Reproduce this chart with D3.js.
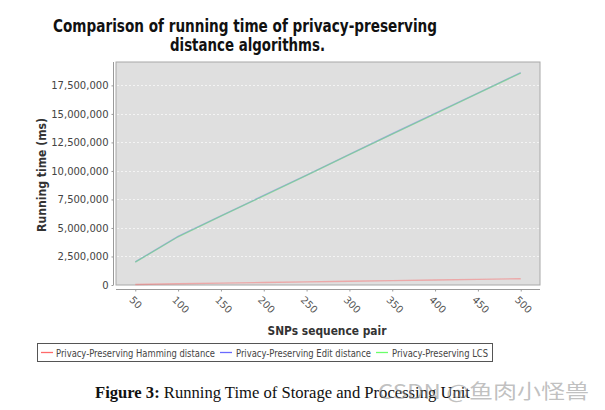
<!DOCTYPE html>
<html>
<head>
<meta charset="utf-8">
<script src="https://cdn.jsdelivr.net/npm/d3@7/dist/d3.min.js"></script>
<style>
  body { margin: 0; background: #fff; }
  svg { display: block; }
</style>
</head>
<body>
<div id="chart"></div>
<script>
var width = 605, height = 410;

// data
var pairs = [50, 100, 150, 200, 250, 300, 350, 400, 450, 500];
var hamming = [50000, 110000, 165000, 220000, 275000, 330000, 385000, 440000, 495000, 550000];
var editDist = [2020000, 4260000, 6060000, 7850000, 9640000, 11450000, 13260000, 15040000, 16830000, 18620000];
var lcs = [2000000, 4230000, 6030000, 7820000, 9610000, 11420000, 13230000, 15010000, 16800000, 18580000];
var yTicks = [0, 2500000, 5000000, 7500000, 10000000, 12500000, 15000000, 17500000];
var seriesNames = ["Privacy-Preserving Hamming distance", "Privacy-Preserving Edit distance", "Privacy-Preserving LCS"];
var seriesColors = ["rgba(255,85,85,0.4)", "rgba(85,85,255,0.4)", "rgba(85,230,85,0.45)"];

var plot = {left: 116, right: 540, top: 62, bottom: 285};

var svg = d3.select("#chart").append("svg")
    .attr("width", width)
    .attr("height", height);

// x and y scales (with the auto-range margins)
var x = d3.scaleLinear().domain([27.5, 522.5]).range([plot.left, plot.right]);
var y = d3.scaleLinear().domain([0, 19550000]).range([plot.bottom, plot.top]);

// title
var title = svg.append("g")
    .attr("font-family", "DejaVu Sans, sans-serif")
    .attr("font-weight", "bold")
    .attr("font-size", 17.5)
    .attr("fill", "#111");
title.append("text").attr("x", 53).attr("y", 32)
    .attr("textLength", 384).attr("lengthAdjust", "spacingAndGlyphs")
    .text("Comparison of running time of privacy-preserving");
title.append("text").attr("x", 170).attr("y", 51)
    .attr("textLength", 155).attr("lengthAdjust", "spacingAndGlyphs")
    .text("distance algorithms.");

// plot background
svg.append("rect")
    .attr("x", plot.left).attr("y", plot.top)
    .attr("width", plot.right - plot.left).attr("height", plot.bottom - plot.top)
    .attr("fill", "#dfdfdf")
    .attr("stroke", "#a8a8a8")
    .attr("stroke-width", 1);

// horizontal grid lines
svg.append("g").selectAll("line")
    .data(yTicks.filter(function(d){ return d > 0; }))
    .enter().append("line")
    .attr("x1", plot.left + 1).attr("x2", plot.right - 1)
    .attr("y1", function(d){ return Math.round(y(d)) + 0.5; })
    .attr("y2", function(d){ return Math.round(y(d)) + 0.5; })
    .attr("stroke", "#f4f4f4")
    .attr("stroke-dasharray", "2,2")
    .attr("stroke-width", 1);

// y axis
var yAxis = svg.append("g")
    .attr("transform", "translate(113.5,0)")
    .call(d3.axisLeft(y).tickValues(yTicks).tickSize(2).tickSizeOuter(0)
        .tickFormat(d3.format(",")));
yAxis.select(".domain").attr("stroke", "#9a9a9a").attr("d", "M0," + plot.top + "V" + plot.bottom);
yAxis.selectAll(".tick line").attr("stroke", "#9a9a9a");
yAxis.selectAll(".tick text")
    .attr("font-family", "DejaVu Sans, sans-serif")
    .attr("font-size", 10)
    .attr("fill", "#444")
    .attr("x", -5);

// x axis
var xAxis = svg.append("g")
    .attr("transform", "translate(0,289.5)")
    .call(d3.axisBottom(x).tickValues(pairs).tickSize(2).tickSizeOuter(0).tickFormat(d3.format("d")));
xAxis.select(".domain").attr("stroke", "#9a9a9a").attr("d", "M" + plot.left + ",0H" + plot.right);
xAxis.selectAll(".tick line").attr("stroke", "#9a9a9a");
xAxis.selectAll(".tick text")
    .attr("font-family", "DejaVu Sans, sans-serif")
    .attr("font-size", 10)
    .attr("fill", "#555")
    .attr("text-anchor", "start")
    .attr("y", 0).attr("dy", "0")
    .attr("transform", "translate(-7,11) rotate(45)");

// axis labels
svg.append("text")
    .attr("transform", "translate(46,175) rotate(-90)")
    .attr("text-anchor", "middle")
    .attr("font-family", "DejaVu Sans, sans-serif")
    .attr("font-weight", "bold")
    .attr("font-size", 12)
    .attr("fill", "#333")
    .attr("textLength", 114).attr("lengthAdjust", "spacingAndGlyphs")
    .text("Running time (ms)");

svg.append("text")
    .attr("x", 327).attr("y", 335)
    .attr("text-anchor", "middle")
    .attr("font-family", "DejaVu Sans, sans-serif")
    .attr("font-weight", "bold")
    .attr("font-size", 12)
    .attr("fill", "#333")
    .attr("textLength", 119).attr("lengthAdjust", "spacingAndGlyphs")
    .text("SNPs sequence pair");

// lines
var line = d3.line()
    .x(function(d, i){ return x(pairs[i]); })
    .y(function(d){ return y(d); });

var allSeries = [hamming, editDist, lcs];
svg.append("g").selectAll("path")
    .data(allSeries)
    .enter().append("path")
    .attr("d", line)
    .attr("fill", "none")
    .attr("stroke", function(d, i){ return seriesColors[i]; })
    .attr("stroke-width", 1.4);

// legend
svg.append("rect")
    .attr("x", 37.5).attr("y", 343.5)
    .attr("width", 455).attr("height", 18)
    .attr("fill", "#fff")
    .attr("stroke", "#555");

var legendPos = [{lx: 41, tx: 56, w: 159}, {lx: 220, tx: 236, w: 135}, {lx: 376, tx: 392, w: 96}];
var legend = svg.append("g").selectAll("g")
    .data(seriesNames)
    .enter().append("g");
legend.append("line")
    .attr("x1", function(d, i){ return legendPos[i].lx; })
    .attr("x2", function(d, i){ return legendPos[i].lx + 12; })
    .attr("y1", 352.5).attr("y2", 352.5)
    .attr("stroke", function(d, i){ return ["#ff6a6a", "#6a6aff", "#6aff6a"][i]; })
    .attr("stroke-width", 1.3);
legend.append("text")
    .attr("x", function(d, i){ return legendPos[i].tx; })
    .attr("y", 356.5)
    .attr("font-family", "DejaVu Sans Condensed, DejaVu Sans, sans-serif")
    .attr("font-size", 10.5)
    .attr("fill", "#444")
    .attr("textLength", function(d, i){ return legendPos[i].w; })
    .attr("lengthAdjust", "spacingAndGlyphs")
    .text(function(d){ return d; });

// caption
var cap = svg.append("text")
    .attr("x", 95).attr("y", 398)
    .attr("font-family", "Liberation Serif, serif")
    .attr("font-size", 16.6)
    .attr("fill", "#111");
cap.append("tspan").attr("font-weight", "bold").text("Figure 3:");
cap.append("tspan").text(" Running Time of Storage and Processing Unit");

// watermark
svg.append("text")
    .attr("x", 378).attr("y", 399)
    .attr("font-family", "Noto Sans CJK SC, sans-serif")
    .attr("font-size", 20)
    .attr("fill", "rgba(140,140,140,0.55)")
    .attr("textLength", 211).attr("lengthAdjust", "spacingAndGlyphs")
    .text("CSDN @鱼肉小怪兽");
</script>
</body>
</html>
